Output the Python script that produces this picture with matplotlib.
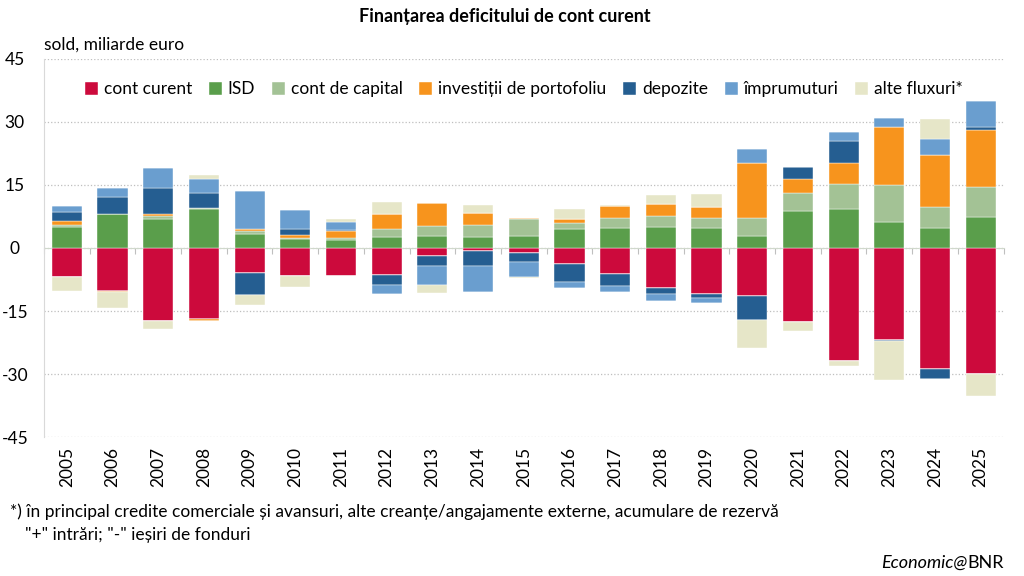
import numpy as np
import matplotlib
matplotlib.use('Agg')
from matplotlib import pyplot as plt
from matplotlib import transforms

plt.rcParams['font.family'] = ['Lato', 'DejaVu Sans']
plt.rcParams['axes.unicode_minus'] = False

years = [str(y) for y in range(2005, 2026)]

# sold, miliarde euro (semn: "+" intrari, "-" iesiri)
cont_curent = [-6.9, -10.3, -17.4, -16.9, -5.9, -6.7, -6.7, -6.5, -1.8, -0.6, -1.1,
               -3.7, -6.1, -9.6, -11.0, -11.4, -17.5, -26.9, -21.8, -28.9, -30.1]
isd = [5.0, 8.2, 6.9, 9.2, 3.4, 2.2, 1.8, 2.5, 2.9, 2.6, 2.9,
       4.5, 4.8, 4.9, 4.7, 2.8, 8.7, 9.2, 6.2, 4.7, 7.3]
cont_capital = [0.4, 0.0, 0.7, 0.4, 0.6, 0.2, 0.6, 2.0, 2.4, 2.9, 4.1,
                1.4, 2.4, 2.8, 2.5, 4.3, 4.4, 6.1, 8.8, 5.0, 7.3]
portofoliu = [1.0, -0.2, 0.5, -0.5, 0.5, 0.8, 1.7, 3.5, 5.3, 2.9, 0.2,
              1.0, 2.9, 2.8, 2.5, 13.2, 3.4, 5.0, 13.8, 12.5, 13.4]
depozite = [2.2, 4.0, 6.2, 3.4, -5.2, 1.4, 0.2, -2.4, -2.6, -3.8, -2.3,
            -4.5, -2.9, -1.4, -0.8, -5.7, 2.9, 5.2, -0.4, -2.2, 0.8]
imprumuturi = [1.5, 2.2, 4.8, 3.4, 9.1, 4.5, 1.9, -2.0, -4.4, -6.0, -3.5,
               -1.4, -1.5, -1.6, -1.2, 3.2, 0.0, 2.2, 2.2, 3.7, 6.2]
alte_fluxuri = [-3.4, -3.8, -1.8, 1.0, -2.5, -2.6, 0.6, 2.9, -1.9, 1.9, -0.3,
                2.5, 0.2, 2.1, 3.2, -6.8, -2.2, -1.2, -9.2, 4.9, -5.2]

series = [
    ('cont curent', cont_curent, '#CC0A3C'),
    ('ISD', isd, '#5A9E4B'),
    ('cont de capital', cont_capital, '#A3C295'),
    ('investiții de portofoliu', portofoliu, '#F7941D'),
    ('depozite', depozite, '#255E91'),
    ('împrumuturi', imprumuturi, '#6A9ECF'),
    ('alte fluxuri*', alte_fluxuri, '#E6E6C8'),
]

fig = plt.figure(figsize=(10.24, 5.76), dpi=100)
ax = fig.add_axes([0.043, 0.2413, 0.937, 0.6563])

x = np.arange(len(years))
pos_base = np.zeros(len(years))
neg_base = np.zeros(len(years))
handles = []
for name, vals, col in series:
    v = np.array(vals)
    pos = np.where(v > 0, v, 0)
    neg = np.where(v < 0, v, 0)
    h = ax.bar(x, pos, 0.66, bottom=pos_base, color=col, label=name,
               edgecolor='white', linewidth=0.3, zorder=3)
    ax.bar(x, neg, 0.66, bottom=neg_base, color=col,
           edgecolor='white', linewidth=0.3, zorder=3)
    pos_base += pos
    neg_base += neg
    handles.append(h)

ax.set_xlim(-0.5, len(years) - 0.5)
ax.set_ylim(-45, 45)
ax.set_yticks(np.arange(-45, 46, 15))
ax.yaxis.grid(True, linestyle=':', color='#BFBFBF', linewidth=0.9, zorder=0)
ax.tick_params(axis='y', length=0, labelsize=12.5, pad=21)
for lbl in ax.get_yticklabels():
    lbl.set_horizontalalignment('center')

# axa x la zero, cu gradatii intre categorii
ax.spines['bottom'].set_position(('data', 0))
ax.spines['bottom'].set_color('#D0D8CC')
ax.spines['bottom'].set_zorder(2)
ax.spines['left'].set_color('#D9D9D9')
ax.spines['top'].set_visible(False)
ax.spines['right'].set_visible(False)
ax.set_xticks(np.arange(-0.5, len(years), 1))
ax.set_xticklabels([])
ax.tick_params(axis='x', length=4, color='#BFBFBF', direction='out')

trans = transforms.blended_transform_factory(ax.transData, ax.transAxes)
for xi, yr in zip(x, years):
    ax.text(xi, -0.026, yr, transform=trans, rotation=90, ha='center', va='top',
            fontsize=12.5)

ax.text(0.0, 1.0 + 6 / 378, 'sold, miliarde euro', transform=ax.transAxes,
        ha='left', va='bottom', fontsize=12.5)

ax.legend(handles=handles, loc='center', bbox_to_anchor=(0.5, 0.92), ncol=7,
          frameon=False, fontsize=12.5, handlelength=0.75, handleheight=0.75,
          handletextpad=0.35, columnspacing=0.95)

fig.text(0.493, 0.972, 'Finanțarea deficitului de cont curent', ha='center', va='center',
         fontsize=13, fontweight='bold')
fig.text(0.010, 1 - 512 / 576,
         '*) în principal credite comerciale și avansuri, alte creanțe/angajamente externe, acumulare de rezervă',
         ha='left', va='center', fontsize=12.5)
fig.text(0.024, 1 - 535 / 576, '"+" intrări; "-" ieșiri de fonduri',
         ha='left', va='center', fontsize=12.5)
t1 = fig.text(0.980, 1 - 563 / 576, 'BNR', ha='right', va='center', fontsize=13)
fig.canvas.draw()
bb = t1.get_window_extent()
fig.text(bb.x0 / fig.bbox.width, 1 - 563 / 576, 'Economic@', ha='right', va='center',
         fontsize=13, style='italic')

fig.savefig('out.png', dpi=100)
